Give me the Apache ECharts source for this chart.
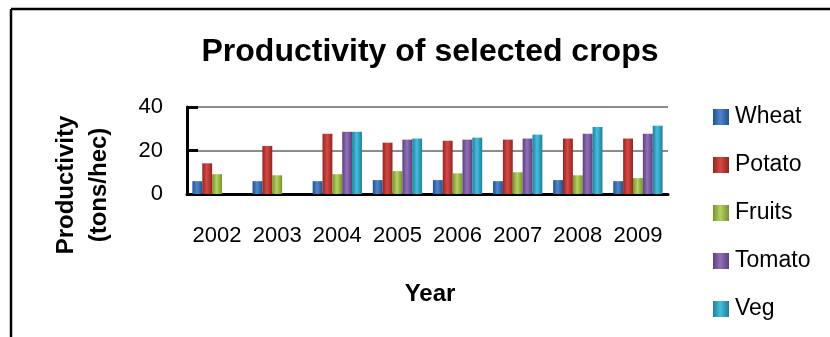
<!DOCTYPE html>
<html>
<head>
<meta charset="utf-8">
<script src="https://cdn.jsdelivr.net/npm/echarts@6/dist/echarts.min.js"></script>
<style>
html,body{margin:0;padding:0;background:#fff;}
#chart{width:830px;height:337px;}
</style>
</head>
<body>
<div id="chart"></div>
<script>
var years = ['2002','2003','2004','2005','2006','2007','2008','2009'];
var wheat  = [5.9, 5.9, 5.9, 6.4, 6.4, 5.9, 6.4, 5.9];
var potato = [14.1, 22.1, 27.7, 23.6, 24.5, 25.0, 25.5, 25.5];
var fruits = [9.1, 8.6, 9.1, 10.5, 9.5, 10.0, 8.6, 7.3];
var tomato = [null, null, 28.6, 25.0, 25.0, 25.5, 27.7, 27.7];
var veg    = [null, null, 28.6, 25.5, 25.9, 27.3, 30.8, 31.4];
var yTicks = [0, 20, 40];

var FONT = '"Liberation Sans", Arial, sans-serif';
function grad(dark, light) {
  return new echarts.graphic.LinearGradient(0, 0, 1, 0, [
    {offset: 0, color: dark},
    {offset: 0.45, color: light},
    {offset: 1, color: dark}
  ]);
}
var seriesDefs = [
  {name: 'Wheat',  data: wheat,  dark: '#24508c', light: '#4f86cc'},
  {name: 'Potato', data: potato, dark: '#962320', light: '#d44a45'},
  {name: 'Fruits', data: fruits, dark: '#76922e', light: '#b5d261'},
  {name: 'Tomato', data: tomato, dark: '#5d3f80', light: '#9270b8'},
  {name: 'Veg',    data: veg,    dark: '#1f7f99', light: '#45bede'}
];

var chart = echarts.init(document.getElementById('chart'), null, {renderer: 'canvas'});
chart.setOption({
  animation: false,
  backgroundColor: '#ffffff',
  textStyle: {fontFamily: FONT},
  title: {
    text: 'Productivity of selected crops',
    left: 425, top: 31, textAlign: 'center',
    textStyle: {fontFamily: FONT, fontWeight: 'bold', fontSize: 32, color: '#000'}
  },
  grid: {left: 187, right: 162, top: 107, bottom: 143, containLabel: false},
  legend: {
    orient: 'vertical', left: 708, top: 100,
    itemWidth: 16, itemHeight: 16, itemGap: 24,
    icon: 'rect',
    textStyle: {fontFamily: FONT, fontSize: 23, color: '#000', padding: [0,0,0,1], lineHeight: 24},
    data: seriesDefs.map(function(s){ return {name: s.name, itemStyle: {color: grad(s.dark, s.light)}}; })
  },
  xAxis: {
    type: 'category', data: years,
    axisLine: {lineStyle: {color: '#000', width: 3}},
    axisTick: {show: false},
    axisLabel: {interval: 0, hideOverlap: false, fontFamily: FONT, fontSize: 22, color: '#000', margin: 31}
  },
  yAxis: {
    type: 'value', min: yTicks[0], max: yTicks[yTicks.length-1], interval: yTicks[1]-yTicks[0],
    axisLine: {show: true, lineStyle: {color: '#000', width: 3}},
    axisTick: {show: true, inside: true, length: 11, lineStyle: {color: '#000', width: 3}},
    axisLabel: {fontFamily: FONT, fontSize: 22, color: '#000', margin: 24},
    splitLine: {lineStyle: {color: '#8c8c8c', width: 2}}
  },
  series: seriesDefs.map(function(s){
    return {
      name: s.name, type: 'bar', data: s.data,
      barGap: '0%', barCategoryGap: '18%',
      itemStyle: {color: grad(s.dark, s.light)}
    };
  }),
  graphic: [
    {type: 'line', shape: {x1: 11, y1: 9, x2: 830, y2: 9}, style: {stroke: '#000', lineWidth: 2.5}, silent: true},
    {type: 'line', shape: {x1: 11, y1: 9, x2: 11, y2: 337}, style: {stroke: '#000', lineWidth: 2.5}, silent: true},
    {type: 'text', x: 83, y: 185, rotation: Math.PI/2,
     style: {text: 'Productivity\n(tons/hec)', font: 'bold 24px ' + FONT, fill: '#000',
             textAlign: 'center', textVerticalAlign: 'middle', lineHeight: 33}},
    {type: 'text', x: 430, y: 294,
     style: {text: 'Year', font: 'bold 24px ' + FONT, fill: '#000',
             textAlign: 'center', textVerticalAlign: 'middle'}}
  ]
});
</script>
</body>
</html>
